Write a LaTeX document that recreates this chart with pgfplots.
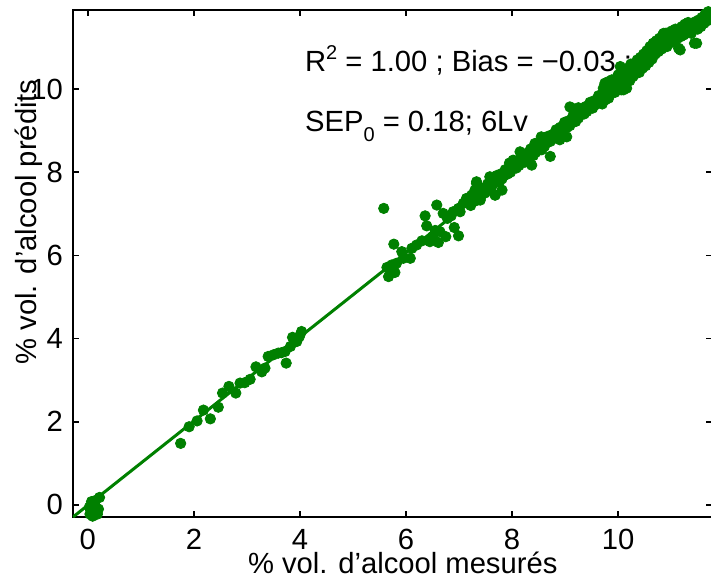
\documentclass[border=0pt]{standalone}
\usepackage{pgfplots}
\pgfplotsset{compat=1.18}
\usepackage{fontspec}
\setmainfont{Liberation Sans}
\definecolor{mgreen}{RGB}{0,128,0}
\begin{document}
\fontsize{14.6}{17}\selectfont
\begin{tikzpicture}
\path[use as bounding box] (-36.5pt,-30.5pt) rectangle (319pt,258.5pt);
\begin{axis}[
  scale only axis,
  width=319.5pt, height=253.5pt,
  xmin=-0.28, xmax=11.77, ymin=-0.29, ymax=11.9,
  xtick={0,2,4,6,8,10}, ytick={0,2,4,6,8,10},
  tick align=inside,
  major tick length=3pt,
  axis line style={line width=1pt},
  every tick/.style={black, line width=0.8pt},
  /pgf/number format/assume math mode=true,
  tick label style={font=\fontsize{14.6}{17}\selectfont},
  xticklabel style={yshift=-1pt},
  every axis x label/.style={at={(axis description cs:0.516,0)}, yshift=-23pt, anchor=center},
  every axis y label/.style={at={(axis description cs:0,0.582)}, xshift=-22pt, rotate=90, anchor=center},
  xlabel={\% vol. d’alcool mesurés},
  ylabel={\% vol. d’alcool prédits},
  clip=true,
]
\addplot[only marks, mark=*, mark size=2.6pt, mgreen, mark options={draw=mgreen, fill=mgreen}] coordinates {
(0.05,-0.10)(0.08,0.00)(0.10,0.05)(0.06,-0.20)(0.10,-0.25)(0.12,-0.15)(0.15,-0.05)(0.20,-0.10)(0.22,0.18)(0.07,0.08)(0.03,-0.05)(0.13,0.10)(0.18,-0.22)(0.09,-0.27)(0.14,-0.20)(0.04,-0.22)
(1.75,1.48)(1.91,1.88)(2.06,2.02)(2.18,2.28)(2.31,2.07)(2.46,2.35)(2.54,2.69)(2.66,2.85)(2.79,2.69)(2.87,2.93)(2.96,2.94)(3.06,3.02)(3.17,3.32)(3.28,3.20)(3.34,3.29)(3.40,3.57)(3.50,3.61)(3.59,3.65)(3.65,3.66)(3.74,3.41)(3.72,3.69)(3.82,3.81)(3.86,4.03)(3.94,3.93)(4.03,4.17)(3.99,4.05)
(5.58,7.13)(5.77,6.27)(5.67,5.49)(5.79,5.59)(5.64,5.71)(5.73,5.77)(5.82,5.81)(5.92,6.09)(5.95,5.93)(6.08,5.93)(6.11,6.17)(6.20,6.25)(6.30,6.35)(6.36,6.95)(6.39,6.71)(6.45,6.33)(6.50,6.45)(6.58,7.21)(6.61,6.31)(6.64,6.57)(6.70,7.01)(6.75,6.45)(6.78,6.89)(6.89,7.05)(6.91,6.67)(6.99,6.47)(6.99,7.13)(7.08,7.25)(7.14,7.37)(7.24,7.45)(7.30,7.57)(7.33,7.73)(7.40,7.33)(7.49,7.53)(7.55,7.69)(7.64,7.77)(7.68,7.45)(6.55,6.60)(6.85,6.95)(7.02,7.05)
(7.20,7.38)(7.22,7.20)(7.26,7.30)(7.28,7.46)(7.31,7.45)(7.33,7.32)(7.36,7.52)(7.38,7.40)(7.42,7.44)(7.44,7.60)(7.47,7.62)(7.49,7.50)(7.52,7.58)(7.54,7.72)(7.58,7.75)(7.60,7.62)(7.63,7.70)(7.65,7.84)(7.69,7.80)(7.71,7.92)(7.74,7.88)(7.76,7.76)(7.79,7.96)(7.81,7.84)(7.85,7.92)(7.87,8.06)(7.90,8.04)(7.92,7.96)(7.95,8.12)(7.97,8.00)(8.01,8.10)(8.03,8.24)(8.06,8.20)(8.08,8.10)(8.11,8.28)(8.13,8.16)(8.17,8.30)(8.19,8.42)(8.22,8.36)(8.24,8.24)(8.27,8.45)(8.29,8.34)(8.33,8.42)(8.35,8.56)(8.38,8.52)(8.40,8.40)(8.43,8.62)(8.45,8.48)(8.49,8.58)(8.51,8.70)(8.54,8.66)(8.56,8.54)(8.59,8.75)(8.61,8.62)(8.65,8.72)(8.67,8.86)(8.70,8.84)(8.72,8.74)(8.75,8.90)(8.77,8.80)(8.81,8.88)(8.83,9.02)(8.86,9.00)(8.88,8.92)(8.91,9.08)(8.93,8.96)(8.97,9.06)(8.99,9.20)(9.02,9.18)(9.04,9.08)(9.07,9.24)(9.09,9.12)(9.13,9.22)(9.15,9.36)(9.18,9.32)(9.20,9.22)(9.23,9.40)(9.25,9.30)(9.29,9.38)(9.31,9.52)(9.34,9.50)(9.36,9.40)(9.39,9.58)(9.41,9.46)(9.45,9.55)(9.47,9.68)(9.50,9.66)(9.52,9.54)(9.55,9.72)(9.57,9.62)(9.61,9.70)(9.63,9.84)(9.66,9.80)(9.68,9.70)
(7.68,7.45)(7.33,7.77)(7.58,7.89)(8.15,8.49)(8.43,8.69)(8.72,8.38)(9.03,8.85)(9.09,9.57)(9.35,9.42)(8.37,8.17)(8.02,8.29)(7.81,7.57)(9.13,9.54)(7.95,8.22)(8.55,8.85)(8.90,8.78)(9.25,9.55)
(9.72,10.02)(9.74,9.80)(9.70,9.64)(9.78,9.96)(9.80,10.10)(9.76,9.74)(9.84,10.05)(9.86,9.90)(9.82,9.78)(9.90,10.12)(9.92,9.96)(9.88,10.22)(9.96,10.06)(9.98,10.25)(9.94,9.92)(10.02,10.18)(10.04,10.02)(10.00,10.34)(10.08,10.30)(10.10,10.12)(10.06,9.98)(10.14,10.26)(10.16,10.42)(10.12,10.10)(10.20,10.38)(10.22,10.20)(10.18,10.50)(10.26,10.46)(10.28,10.30)(10.24,10.60)(10.32,10.44)(10.34,10.62)(10.30,10.34)(10.38,10.56)(10.40,10.40)(10.36,10.70)(10.44,10.62)(10.46,10.50)(10.42,10.76)(10.50,10.70)(10.52,10.56)(10.48,10.84)(10.56,10.80)(10.58,10.64)(10.54,10.92)(10.62,10.90)(10.64,10.72)(10.60,11.02)(10.68,10.98)(10.70,10.84)(10.66,11.10)(10.74,11.06)(10.76,10.90)(10.72,11.16)(10.80,11.10)(10.82,10.96)(10.78,11.22)(10.86,11.18)(10.88,11.04)(10.84,11.30)(10.92,11.22)(10.94,11.08)(10.90,11.34)(10.98,11.24)(11.00,11.12)(10.96,11.36)(11.04,11.30)(11.06,11.16)(11.02,11.40)(11.10,11.34)(11.12,11.22)(11.08,11.44)(11.16,11.36)(11.18,11.26)(11.14,10.98)(11.22,11.42)(11.24,11.30)(11.20,11.50)(11.28,11.46)(11.30,11.36)(11.26,11.56)(11.34,11.50)(11.36,11.40)(11.32,11.60)(11.40,11.56)(11.42,11.46)(11.38,11.34)(11.46,11.62)(11.48,11.52)(11.44,11.10)(11.52,11.66)(11.54,11.58)(11.50,11.44)(11.58,11.72)(11.60,11.62)(11.56,11.50)(11.64,11.80)(11.66,11.70)(11.62,11.58)(11.70,11.86)(11.72,11.76)(11.68,11.64)(11.76,11.92)(11.74,11.82)
(10.04,10.54)(9.75,10.14)(10.10,9.98)(10.67,11.10)(10.86,11.34)(11.11,11.42)(11.17,10.94)(11.48,11.10)(11.36,11.50)(11.67,11.82)(10.35,10.62)(10.54,10.86)(10.92,11.02)(9.66,9.74)(9.47,9.57)(9.82,10.18)(10.16,10.02)
};
\addplot[mgreen, line width=1.5pt] coordinates {(-0.28,-0.29) (11.77,11.9)};
\node[anchor=base west, inner sep=0pt] at (axis cs:4.09,10.43) {R\raisebox{0.75ex}{\fontsize{10}{12}\selectfont 2} = 1.00 ; Bias = −0.03 ;};
\node[anchor=base west, inner sep=0pt] at (axis cs:4.09,8.97) {SEP\raisebox{-0.6ex}{\fontsize{10}{12}\selectfont 0} = 0.18; 6Lv};
\end{axis}
\end{tikzpicture}
\end{document}
